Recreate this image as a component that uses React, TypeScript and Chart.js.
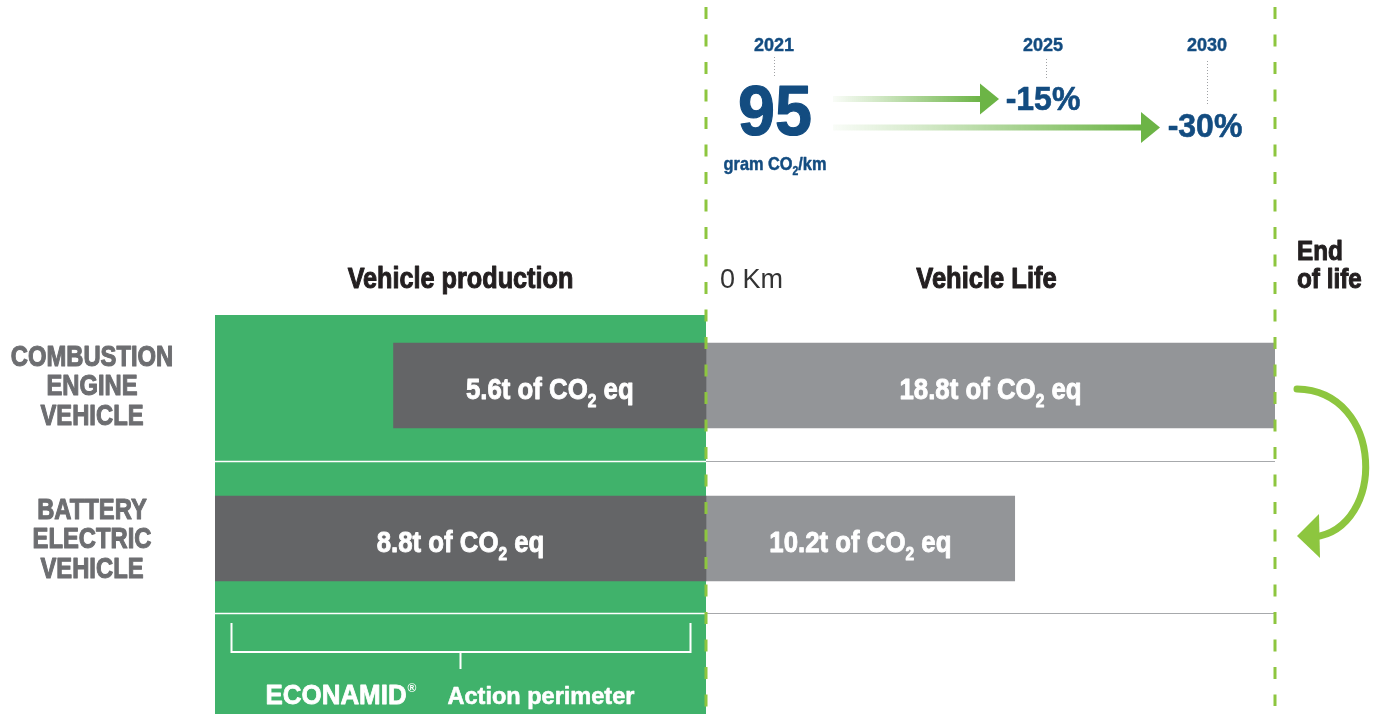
import React, { useEffect, useRef } from 'react';
import { Chart, registerables } from 'chart.js';

Chart.register(...registerables);

// ---------- data ----------
const vehicleTypes: string[][] = [
  ['COMBUSTION', 'ENGINE', 'VEHICLE'],
  ['BATTERY', 'ELECTRIC', 'VEHICLE'],
];
const productionTonnes: number[] = [5.6, 8.8];
const lifeTonnes: number[] = [18.8, 10.2];
const stageTitles: string[] = ['Vehicle production', 'Vehicle Life'];
const startLabel = '0 Km';
const endLabel: string[] = ['End', 'of life'];
const targetYears: string[] = ['2021', '2025', '2030'];
const targetLabels: string[] = ['95', '-15%', '-30%'];
const brandName = 'ECONAMID';
const brandTail = 'Action perimeter';

// ---------- style ----------
const GREEN_PANEL = '#40b26b';
const GREEN_LINE = '#8dc63f';
const ARROW_GREEN = '#6cb446';
const DARK_BAR = '#646567';
const LIGHT_BAR = '#939598';
const BLUE = '#134c80';
const LABEL_GREY = '#6d6e71';
const HEAD = '#231f20';
const SANS = '"Liberation Sans", Arial, sans-serif';

type Run = { t: string; font: string; dy?: number };

// draws a run of text pieces, optionally condensed horizontally by sx and emboldened by a stroke
function drawRuns(
  ctx: CanvasRenderingContext2D,
  list: Run[],
  x: number,
  y: number,
  align: 'left' | 'center',
  color: string,
  sx = 1,
  heavy = 0
) {
  let total = 0;
  list.forEach((r) => {
    ctx.font = r.font;
    total += ctx.measureText(r.t).width;
  });
  ctx.save();
  ctx.translate(x, y);
  ctx.scale(sx, 1);
  let cx = align === 'center' ? -total / 2 : 0;
  ctx.textAlign = 'left';
  ctx.textBaseline = 'alphabetic';
  ctx.fillStyle = color;
  ctx.strokeStyle = color;
  ctx.lineJoin = 'round';
  ctx.lineWidth = heavy;
  list.forEach((r) => {
    ctx.font = r.font;
    ctx.fillText(r.t, cx, r.dy || 0);
    if (heavy > 0) ctx.strokeText(r.t, cx, r.dy || 0);
    cx += ctx.measureText(r.t).width;
  });
  ctx.restore();
}

function drawText(
  ctx: CanvasRenderingContext2D,
  s: string,
  x: number,
  y: number,
  font: string,
  color: string,
  align: 'left' | 'center' = 'center',
  sx = 1,
  heavy = 0
) {
  drawRuns(ctx, [{ t: s, font }], x, y, align, color, sx, heavy);
}

function line(ctx: CanvasRenderingContext2D, x1: number, y1: number, x2: number, y2: number) {
  ctx.beginPath();
  ctx.moveTo(x1, y1);
  ctx.lineTo(x2, y2);
  ctx.stroke();
}

function gradientArrow(ctx: CanvasRenderingContext2D, x0: number, tip: number, y: number) {
  const headLen = 19;
  const g = ctx.createLinearGradient(x0, 0, tip - headLen, 0);
  g.addColorStop(0, 'rgba(108,180,70,0.04)');
  g.addColorStop(0.3, 'rgba(108,180,70,0.3)');
  g.addColorStop(1, 'rgba(108,180,70,1)');
  ctx.fillStyle = g;
  ctx.fillRect(x0, y - 3, tip - headLen - x0 + 2, 6);
  ctx.fillStyle = ARROW_GREEN;
  ctx.beginPath();
  ctx.moveTo(tip - headLen, y - 15.5);
  ctx.lineTo(tip, y);
  ctx.lineTo(tip - headLen, y + 15.5);
  ctx.closePath();
  ctx.fill();
}

const infographicPlugin = {
  id: 'infographic',
  beforeDatasetsDraw(chart: any) {
    const { ctx, chartArea, scales } = chart;
    const yS = scales.y;
    const zeroX = scales.xLife.getPixelForValue(0);
    const c0 = yS.getPixelForValue(0);
    const c1 = yS.getPixelForValue(1);
    const band = c1 - c0;
    ctx.save();
    // green production panel
    ctx.fillStyle = GREEN_PANEL;
    const top = c0 - 70.5;
    ctx.fillRect(chartArea.left, top, zeroX - chartArea.left, chart.height - top);
    // separators
    [(c0 + c1) / 2 - 0.5, c1 + band / 2 - 1.5].forEach((sy) => {
      ctx.strokeStyle = '#ffffff';
      ctx.lineWidth = 1.5;
      line(ctx, chartArea.left, sy, zeroX, sy);
      ctx.strokeStyle = '#a7a9ac';
      ctx.lineWidth = 1.2;
      line(ctx, zeroX, sy, chartArea.right, sy);
    });
    // category labels (left)
    (chart.data.labels as string[][]).forEach((lines, i) => {
      const cy = yS.getPixelForValue(i);
      lines.forEach((ln, j) => {
        drawText(ctx, ln, 92, cy + (j - 1) * 29.5 + 9.5, `bold 29px ${SANS}`, LABEL_GREY, 'center', 0.82, 1.1);
      });
    });
    ctx.restore();
  },
  afterDatasetsDraw(chart: any) {
    const { ctx, chartArea, scales } = chart;
    const xL = scales.xLife;
    const zeroX = xL.getPixelForValue(0);
    const endX = xL.getPixelForValue(Math.max(...lifeTonnes));
    ctx.save();

    // dashed stage borders
    ctx.strokeStyle = GREEN_LINE;
    ctx.lineWidth = 3;
    ctx.setLineDash([12, 15.5]);
    line(ctx, zeroX, 7, zeroX, chart.height);
    line(ctx, endX, 7, endX, chart.height - 8);
    ctx.setLineDash([]);

    // bar labels
    chart.data.datasets.forEach((ds: any, di: number) => {
      const meta = chart.getDatasetMeta(di);
      const values = di === 0 ? productionTonnes : lifeTonnes;
      meta.data.forEach((el: any, i: number) => {
        const p = el.getProps(['x', 'base', 'y'], true);
        const cx = (p.x + p.base) / 2;
        drawRuns(
          ctx,
          [
            { t: `${values[i].toFixed(1)}t of CO`, font: `bold 30px ${SANS}` },
            { t: '2', font: `bold 18px ${SANS}`, dy: 8 },
            { t: ' eq', font: `bold 30px ${SANS}` },
          ],
          cx,
          p.y + 13,
          'center',
          '#ffffff',
          0.86,
          0.9
        );
      });
    });

    // stage titles
    drawText(ctx, stageTitles[0], (chartArea.left + zeroX) / 2, 288, `bold 29px ${SANS}`, HEAD, 'center', 0.87, 1);
    drawText(ctx, stageTitles[1], (zeroX + endX) / 2 - 4, 288, `bold 29px ${SANS}`, HEAD, 'center', 0.88, 1);
    drawText(ctx, startLabel, zeroX + 14, 288, `27px ${SANS}`, '#333333', 'left');
    drawText(ctx, endLabel[0], endX + 22, 260, `bold 27px ${SANS}`, HEAD, 'left', 0.9, 1);
    drawText(ctx, endLabel[1], endX + 22, 288, `bold 27px ${SANS}`, HEAD, 'left', 0.9, 1);

    // top targets
    const yearX = [774, 1043, 1207];
    targetYears.forEach((yr, i) => drawText(ctx, yr, yearX[i], 51, `bold 19px ${SANS}`, BLUE, 'center', 0.95, 0.4));
    ctx.strokeStyle = '#a0a2a5';
    ctx.lineWidth = 1;
    ctx.setLineDash([1, 2]);
    line(ctx, 774.5, 57, 774.5, 78);
    line(ctx, 1046.5, 59, 1046.5, 80);
    line(ctx, 1207.5, 61, 1207.5, 105);
    ctx.setLineDash([]);
    drawText(ctx, targetLabels[0], 775, 135, `bold 70px ${SANS}`, BLUE, 'center', 0.95, 1.2);
    drawRuns(
      ctx,
      [
        { t: 'gram CO', font: `bold 19px ${SANS}` },
        { t: '2', font: `bold 12px ${SANS}`, dy: 5 },
        { t: '/km', font: `bold 19px ${SANS}` },
      ],
      775,
      170,
      'center',
      BLUE,
      0.86,
      0.5
    );
    gradientArrow(ctx, 833, 999, 99);
    gradientArrow(ctx, 833, 1160, 127.5);
    drawText(ctx, targetLabels[1], 1043, 110, `bold 33px ${SANS}`, BLUE, 'center', 0.97, 0.6);
    drawText(ctx, targetLabels[2], 1205, 137, `bold 33px ${SANS}`, BLUE, 'center', 0.97, 0.6);

    // curved end-of-life arrow
    ctx.strokeStyle = GREEN_LINE;
    ctx.fillStyle = GREEN_LINE;
    ctx.lineWidth = 7;
    ctx.lineCap = 'round';
    ctx.beginPath();
    ctx.moveTo(1297, 389);
    ctx.bezierCurveTo(1385, 391, 1386, 528, 1314, 537);
    ctx.stroke();
    ctx.beginPath();
    ctx.moveTo(1297, 536);
    ctx.lineTo(1319, 514);
    ctx.lineTo(1320, 558);
    ctx.closePath();
    ctx.fill();

    // action perimeter bracket
    const midX = (chartArea.left + zeroX) / 2;
    ctx.strokeStyle = '#ffffff';
    ctx.lineWidth = 2;
    ctx.lineCap = 'butt';
    ctx.beginPath();
    ctx.moveTo(midX - 229, 623);
    ctx.lineTo(midX - 229, 652);
    ctx.lineTo(midX + 230, 652);
    ctx.lineTo(midX + 230, 623);
    ctx.stroke();
    line(ctx, midX, 652, midX, 669);
    drawRuns(ctx, [{ t: brandName, font: `bold 27px ${SANS}` }], midX - 195, 704, 'left', '#ffffff', 0.96, 0.8);
    drawRuns(ctx, [{ t: '®', font: `bold 12px ${SANS}` }], midX - 53, 692, 'left', '#ffffff');
    drawRuns(ctx, [{ t: brandTail, font: `bold 24px ${SANS}` }], midX - 13, 704, 'left', '#ffffff', 0.98, 0.6);
    ctx.restore();
  },
};

export default function App() {
  const canvasRef = useRef<HTMLCanvasElement | null>(null);

  useEffect(() => {
    if (!canvasRef.current) return;
    const prodMax = Math.max(...productionTonnes);
    const lifeMax = Math.max(...lifeTonnes);
    // production stage spans 491px left of 0 km, life stage 569px to the right
    const leftSpan = 491;
    const rightSpan = 569;
    const chart = new Chart(canvasRef.current, {
      type: 'bar',
      data: {
        labels: vehicleTypes,
        datasets: [
          {
            label: 'Vehicle production',
            data: productionTonnes.map((v) => [-v, 0]),
            xAxisID: 'xProd',
            yAxisID: 'y',
            backgroundColor: DARK_BAR,
            borderWidth: 0,
            barThickness: 85,
            grouped: false,
          } as any,
          {
            label: 'Vehicle life',
            data: lifeTonnes.map((v) => [0, v]),
            xAxisID: 'xLife',
            yAxisID: 'y',
            backgroundColor: LIGHT_BAR,
            borderWidth: 0,
            barThickness: 85,
            grouped: false,
          } as any,
        ],
      },
      options: {
        indexAxis: 'y',
        responsive: false,
        animation: false,
        events: [],
        layout: { padding: { left: 0, right: 103, top: 309, bottom: 99 } },
        plugins: { legend: { display: false }, tooltip: { enabled: false } },
        scales: {
          y: {
            type: 'category',
            position: 'left',
            grid: { display: false, drawTicks: false },
            border: { display: false },
            ticks: { display: false },
            afterFit: (s: any) => {
              s.width = 215;
            },
          },
          xProd: {
            type: 'linear',
            display: false,
            min: -prodMax,
            max: (prodMax * rightSpan) / leftSpan,
          },
          xLife: {
            type: 'linear',
            display: false,
            min: (-lifeMax * leftSpan) / rightSpan,
            max: lifeMax,
          },
        },
      } as any,
      plugins: [infographicPlugin],
    });
    return () => chart.destroy();
  }, []);

  return (
    <div style={{ position: 'fixed', left: 0, top: 0, width: 1378, height: 714, background: '#ffffff' }}>
      <canvas ref={canvasRef} width={1378} height={714} style={{ display: 'block' }} />
    </div>
  );
}
